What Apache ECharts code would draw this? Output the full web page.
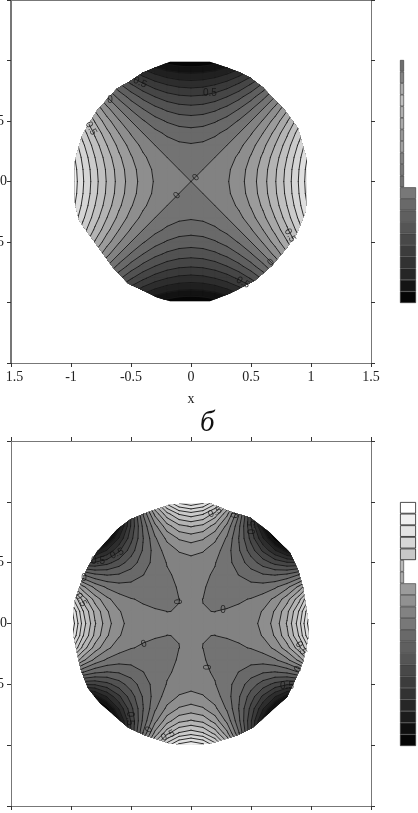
<!DOCTYPE html>
<html>
<head>
<meta charset="utf-8">
<title>contours</title>
<script src="https://cdn.jsdelivr.net/npm/echarts@6/dist/echarts.min.js"></script>
<style>
html, body { margin: 0; padding: 0; background: #fff; }
#chart { width: 418px; height: 813px; }
</style>
</head>
<body>
<div id="chart"></div>
<script>
var gridX = [-1,-0.9,-0.8,-0.7,-0.6,-0.5,-0.4,-0.3,-0.2,-0.1,0,0.1,0.2,0.3,0.4,0.5,0.6,0.7,0.8,0.9,1];
var gridY = [1,0.9,0.8,0.7,0.6,0.5,0.4,0.3,0.2,0.1,0,-0.1,-0.2,-0.3,-0.4,-0.5,-0.6,-0.7,-0.8,-0.9,-1];

// upper panel, in hundredths
var topUnit = 0.01;
var topField = [
	[0,-19,-36,-51,-64,-75,-84,-91,-96,-99,-100,-99,-96,-91,-84,-75,-64,-51,-36,-19,0],
	[19,0,-17,-32,-45,-56,-65,-72,-77,-80,-81,-80,-77,-72,-65,-56,-45,-32,-17,0,19],
	[36,17,0,-15,-28,-39,-48,-55,-60,-63,-64,-63,-60,-55,-48,-39,-28,-15,0,17,36],
	[51,32,15,0,-13,-24,-33,-40,-45,-48,-49,-48,-45,-40,-33,-24,-13,0,15,32,51],
	[64,45,28,13,0,-11,-20,-27,-32,-35,-36,-35,-32,-27,-20,-11,0,13,28,45,64],
	[75,56,39,24,11,0,-9,-16,-21,-24,-25,-24,-21,-16,-9,0,11,24,39,56,75],
	[84,65,48,33,20,9,0,-7,-12,-15,-16,-15,-12,-7,0,9,20,33,48,65,84],
	[91,72,55,40,27,16,7,0,-5,-8,-9,-8,-5,0,7,16,27,40,55,72,91],
	[96,77,60,45,32,21,12,5,0,-3,-4,-3,0,5,12,21,32,45,60,77,96],
	[99,80,63,48,35,24,15,8,3,0,-1,0,3,8,15,24,35,48,63,80,99],
	[100,81,64,49,36,25,16,9,4,1,0,1,4,9,16,25,36,49,64,81,100],
	[99,80,63,48,35,24,15,8,3,0,-1,0,3,8,15,24,35,48,63,80,99],
	[96,77,60,45,32,21,12,5,0,-3,-4,-3,0,5,12,21,32,45,60,77,96],
	[91,72,55,40,27,16,7,0,-5,-8,-9,-8,-5,0,7,16,27,40,55,72,91],
	[84,65,48,33,20,9,0,-7,-12,-15,-16,-15,-12,-7,0,9,20,33,48,65,84],
	[75,56,39,24,11,0,-9,-16,-21,-24,-25,-24,-21,-16,-9,0,11,24,39,56,75],
	[64,45,28,13,0,-11,-20,-27,-32,-35,-36,-35,-32,-27,-20,-11,0,13,28,45,64],
	[51,32,15,0,-13,-24,-33,-40,-45,-48,-49,-48,-45,-40,-33,-24,-13,0,15,32,51],
	[36,17,0,-15,-28,-39,-48,-55,-60,-63,-64,-63,-60,-55,-48,-39,-28,-15,0,17,36],
	[19,0,-17,-32,-45,-56,-65,-72,-77,-80,-81,-80,-77,-72,-65,-56,-45,-32,-17,0,19],
	[0,-19,-36,-51,-64,-75,-84,-91,-96,-99,-100,-99,-96,-91,-84,-75,-64,-51,-36,-19,0]
];

// lower panel, in ten-thousandths
var bottomUnit = 0.0001;
var bottomField = [
	[-40000,-32039,-24304,-16999,-10304,-4375,656,4681,7616,9401,10000,9401,7616,4681,656,-4375,-10304,-16999,-24304,-32039,-40000],
	[-32039,-26244,-20447,-14852,-9639,-4964,-959,2268,4633,6076,6561,6076,4633,2268,-959,-4964,-9639,-14852,-20447,-26244,-32039],
	[-24304,-20447,-16384,-12319,-8432,-4879,-1792,721,2576,3713,4096,3713,2576,721,-1792,-4879,-8432,-12319,-16384,-20447,-24304],
	[-16999,-14852,-12319,-9604,-6887,-4324,-2047,-164,1241,2108,2401,2108,1241,-164,-2047,-4324,-6887,-9604,-12319,-14852,-16999],
	[-10304,-9639,-8432,-6887,-5184,-3479,-1904,-567,448,1081,1296,1081,448,-567,-1904,-3479,-5184,-6887,-8432,-9639,-10304],
	[-4375,-4964,-4879,-4324,-3479,-2500,-1519,-644,41,476,625,476,41,-644,-1519,-2500,-3479,-4324,-4879,-4964,-4375],
	[656,-959,-1792,-2047,-1904,-1519,-1024,-527,-112,161,256,161,-112,-527,-1024,-1519,-1904,-2047,-1792,-959,656],
	[4681,2268,721,-164,-567,-644,-527,-324,-119,28,81,28,-119,-324,-527,-644,-567,-164,721,2268,4681],
	[7616,4633,2576,1241,448,41,-112,-119,-64,-7,16,-7,-64,-119,-112,41,448,1241,2576,4633,7616],
	[9401,6076,3713,2108,1081,476,161,28,-7,-4,1,-4,-7,28,161,476,1081,2108,3713,6076,9401],
	[10000,6561,4096,2401,1296,625,256,81,16,1,0,1,16,81,256,625,1296,2401,4096,6561,10000],
	[9401,6076,3713,2108,1081,476,161,28,-7,-4,1,-4,-7,28,161,476,1081,2108,3713,6076,9401],
	[7616,4633,2576,1241,448,41,-112,-119,-64,-7,16,-7,-64,-119,-112,41,448,1241,2576,4633,7616],
	[4681,2268,721,-164,-567,-644,-527,-324,-119,28,81,28,-119,-324,-527,-644,-567,-164,721,2268,4681],
	[656,-959,-1792,-2047,-1904,-1519,-1024,-527,-112,161,256,161,-112,-527,-1024,-1519,-1904,-2047,-1792,-959,656],
	[-4375,-4964,-4879,-4324,-3479,-2500,-1519,-644,41,476,625,476,41,-644,-1519,-2500,-3479,-4324,-4879,-4964,-4375],
	[-10304,-9639,-8432,-6887,-5184,-3479,-1904,-567,448,1081,1296,1081,448,-567,-1904,-3479,-5184,-6887,-8432,-9639,-10304],
	[-16999,-14852,-12319,-9604,-6887,-4324,-2047,-164,1241,2108,2401,2108,1241,-164,-2047,-4324,-6887,-9604,-12319,-14852,-16999],
	[-24304,-20447,-16384,-12319,-8432,-4879,-1792,721,2576,3713,4096,3713,2576,721,-1792,-4879,-8432,-12319,-16384,-20447,-24304],
	[-32039,-26244,-20447,-14852,-9639,-4964,-959,2268,4633,6076,6561,6076,4633,2268,-959,-4964,-9639,-14852,-20447,-26244,-32039],
	[-40000,-32039,-24304,-16999,-10304,-4375,656,4681,7616,9401,10000,9401,7616,4681,656,-4375,-10304,-16999,-24304,-32039,-40000]
];

var topLevels = [-0.9,-0.8,-0.7,-0.6,-0.5,-0.4,-0.3,-0.2,-0.1,0,0.1,0.2,0.3,0.4,0.5,0.6,0.7,0.8,0.9];
var bottomLevels = [-0.9,-0.8,-0.7,-0.6,-0.5,-0.4,-0.3,-0.2,-0.1,-0.0006,0.1,0.2,0.3,0.4,0.5,0.6,0.7,0.8,0.9];
var bandGrays = [5,18,32,45,58,70,82,95,105,115,130,142,155,168,180,192,203,213,223,238];

// outline of the filled disk in each panel
var topRim = [[-0.175,0.99],[-0.3,0.942],[-0.4,0.9],[-0.525,0.818],[-0.617,0.769],[-0.783,0.587],[-0.908,0.38],[-0.967,0.174],[-0.967,-0.182],[-0.933,-0.322],[-0.783,-0.529],[-0.65,-0.711],[-0.525,-0.843],[-0.4,-0.9],[-0.283,-0.959],[-0.175,-0.99],[0.158,-0.99],[0.325,-0.926],[0.533,-0.818],[0.675,-0.694],[0.8,-0.545],[0.883,-0.43],[0.958,-0.24],[0.967,0.174],[0.892,0.438],[0.783,0.587],[0.6,0.777],[0.492,0.86],[0.408,0.9],[0.3,0.942],[0.158,0.99]];
var bottomRim = [[-0.175,0.979],[-0.367,0.913],[-0.508,0.855],[-0.617,0.773],[-0.783,0.591],[-0.858,0.467],[-0.908,0.36],[-0.967,0.194],[-0.983,0.087],[-0.983,-0.079],[-0.95,-0.244],[-0.917,-0.384],[-0.858,-0.533],[-0.758,-0.657],[-0.525,-0.855],[-0.383,-0.921],[-0.175,-0.988],[-0.008,-0.996],[0.158,-0.988],[0.383,-0.921],[0.517,-0.855],[0.8,-0.607],[0.867,-0.467],[0.933,-0.318],[0.975,-0.136],[0.983,-0.012],[0.933,0.302],[0.892,0.442],[0.825,0.583],[0.658,0.748],[0.492,0.872],[0.325,0.921],[0.158,0.988],[-0.008,0.988]];

// x, y, text, rotation
var topLabels = [[-0.425,0.818,'0.5',-25],[-0.675,0.669,'0',0],[-0.833,0.438,'0.5',-60],[0.042,0.033,'0',45],[-0.117,-0.116,'0',45],[0.158,0.727,'0.5',0],[0.825,-0.446,'0.5',-60],[0.667,-0.669,'0',45],[0.433,-0.835,'0.5',-30]];
var bottomLabels = [[-0.617,0.574,'0.5',25],[-0.775,0.508,'0.5',0],[-0.892,0.368,'0',0],[-0.917,0.194,'0.5',-60],[-0.1,0.178,'0',90],[0.2,0.913,'0.5',25],[0.367,0.888,'0',80],[0.508,0.789,'0.5',90],[0.267,0.112,'0',0],[-0.392,-0.169,'0',20],[-0.508,-0.781,'0.5',-90],[-0.35,-0.872,'0',60],[-0.192,-0.921,'0.5',25],[0.142,-0.36,'0',90],[0.917,-0.202,'0.5',-60],[0.892,-0.376,'0',60],[0.8,-0.517,'0.5',0]];

var xTickLabels = ['1.5','-1','-0.5','0','0.5','1','1.5'];
var yTickLabels = ['','','-0.5','0','0.5','',''];

// colour bars, read from the top cell down
var topBarGrays = [110,130,170,190,175,170,150,160,130,120,115,120,105,95,85,72,60,50,38,20,5];
var topBarSpans = [0.25,0.25,0.25,0.25,0.25,0.25,0.25,0.25,0.25,0.25,0.25,1,1,1,1,1,1,1,1,1,1];
var bottomBarGrays = [255,240,228,215,200,185,170,155,145,130,120,105,95,85,72,60,50,38,28,15,5];
var bottomBarSpans = [1,1,1,1,1,0.25,0.25,1,1,1,1,1,1,1,1,1,1,1,1,1,1];

function gray(g) {
	return 'rgb(' + g + ',' + g + ',' + g + ')';
}

// cut one grid cell at a level, gives the part above it and the contour pieces
function cutCell(field, unit, r, c, level) {
	var corners = [
		[gridX[c], gridY[r], field[r][c] * unit],
		[gridX[c + 1], gridY[r], field[r][c + 1] * unit],
		[gridX[c + 1], gridY[r + 1], field[r + 1][c + 1] * unit],
		[gridX[c], gridY[r + 1], field[r + 1][c] * unit]
	];
	var poly = [], cross = [];
	for (var i = 0; i < 4; i++) {
		var a = corners[i], b = corners[(i + 1) % 4];
		var ain = a[2] >= level, bin = b[2] >= level;
		if (ain) poly.push([a[0], a[1]]);
		if (ain !== bin) {
			var t = (level - a[2]) / (b[2] - a[2]);
			var p = [a[0] + (b[0] - a[0]) * t, a[1] + (b[1] - a[1]) * t];
			poly.push(p);
			cross.push(p);
		}
	}
	return { poly: poly, cross: cross };
}

function rimClip(rim, api) {
	return { type: 'polygon', shape: { points: rim.map(function(p) { return api.coord(p); }) } };
}

function bandSeries(axisIndex, field, unit, levels, rim) {
	var items = [[0, 0]];
	levels.forEach(function() { items.push([0, 0]); });
	return {
		type: 'custom',
		xAxisIndex: axisIndex,
		yAxisIndex: axisIndex,
		clip: false,
		silent: true,
		animation: false,
		data: items,
		renderItem: function(params, api) {
			var i = params.dataIndex;
			var color = gray(bandGrays[i]);
			var style = { fill: color, stroke: color, lineWidth: 1.2 };
			var children = [];
			if (i === 0) {
				children.push({ type: 'polygon', shape: { points: rim.map(function(p) { return api.coord(p); }) }, style: style });
			} else {
				for (var r = 0; r < gridY.length - 1; r++) {
					for (var c = 0; c < gridX.length - 1; c++) {
						var cell = cutCell(field, unit, r, c, levels[i - 1]);
						if (cell.poly.length > 2) {
							children.push({ type: 'polygon', shape: { points: cell.poly.map(function(p) { return api.coord(p); }) }, style: style });
						}
					}
				}
			}
			return { type: 'group', clipPath: rimClip(rim, api), children: children };
		}
	};
}

function lineSeries(axisIndex, field, unit, levels, rim) {
	return {
		type: 'custom',
		xAxisIndex: axisIndex,
		yAxisIndex: axisIndex,
		clip: false,
		silent: true,
		animation: false,
		data: levels.map(function() { return [0, 0]; }),
		renderItem: function(params, api) {
			var level = levels[params.dataIndex];
			var children = [];
			for (var r = 0; r < gridY.length - 1; r++) {
				for (var c = 0; c < gridX.length - 1; c++) {
					var cross = cutCell(field, unit, r, c, level).cross;
					for (var k = 0; k + 1 < cross.length; k += 2) {
						var p = api.coord(cross[k]), q = api.coord(cross[k + 1]);
						if (p[0] === q[0] && p[1] === q[1]) continue;
						children.push({ type: 'line', shape: { x1: p[0], y1: p[1], x2: q[0], y2: q[1] }, style: { stroke: '#161616', lineWidth: 0.9, lineCap: 'round' } });
					}
				}
			}
			return { type: 'group', clipPath: rimClip(rim, api), children: children };
		}
	};
}

function labelSeries(axisIndex, labels) {
	return {
		type: 'scatter',
		xAxisIndex: axisIndex,
		yAxisIndex: axisIndex,
		symbolSize: 0,
		silent: true,
		animation: false,
		data: labels.map(function(l) {
			return {
				value: [l[0], l[1]],
				label: { show: true, position: 'inside', formatter: l[2], rotate: l[3], fontFamily: 'Liberation Sans', fontSize: 10, color: '#111' }
			};
		})
	};
}

function barSeries(axisIndex, grays, spans, heavy) {
	return {
		type: 'bar',
		xAxisIndex: axisIndex,
		yAxisIndex: axisIndex,
		barWidth: '100%',
		silent: true,
		animation: false,
		data: grays.map(function(g, i) {
			return {
				value: spans[i],
				itemStyle: { color: gray(g), borderColor: i < heavy ? '#222' : '#333', borderWidth: i < heavy ? 0.8 : 0.6 }
			};
		})
	};
}

function valueX(gridIndex, position, labelled) {
	return {
		type: 'value', gridIndex: gridIndex, position: position, min: -1.5, max: 1.5, interval: 0.5,
		axisLine: { onZero: false, lineStyle: { color: '#777', width: 1 } },
		axisTick: { show: true, length: 4, lineStyle: { color: '#333' } },
		splitLine: { show: false },
		axisLabel: labelled ? {
			show: true, margin: 7, fontFamily: 'Liberation Serif', fontSize: 14, color: '#222', hideOverlap: false,
			showMinLabel: true, showMaxLabel: true,
			formatter: function(v) {
				var i = Math.round((v + 1.5) / 0.5);
				return i === 0 ? '{first|' + xTickLabels[0] + '}' : xTickLabels[i];
			},
			rich: { first: { fontFamily: 'Liberation Serif', fontSize: 14, color: '#222', padding: [0, 0, 0, 7] } }
		} : { show: false }
	};
}

function valueY(gridIndex, position, labelled, axisWidth) {
	return {
		type: 'value', gridIndex: gridIndex, position: position, min: -1.5, max: 1.5, interval: 0.5,
		axisLine: { onZero: false, lineStyle: { color: '#777', width: axisWidth } },
		axisTick: { show: true, length: 4, lineStyle: { color: '#333' } },
		splitLine: { show: false },
		axisLabel: labelled ? {
			show: true, margin: 4, fontFamily: 'Liberation Serif', fontSize: 14, color: '#222',
			formatter: function(v) {
				var t = yTickLabels[Math.round((v + 1.5) / 0.5)];
				if (t === '0') return t;
				return t ? '{cut|' + t + '}' : '';
			},
			rich: { cut: { fontFamily: 'Liberation Serif', fontSize: 14, color: '#222', padding: [0, 3, 0, 0] } }
		} : { show: false }
	};
}

function barX(gridIndex) {
	return { type: 'value', gridIndex: gridIndex, min: 0, max: 1, show: false };
}

function barY(gridIndex, grays) {
	return { type: 'category', gridIndex: gridIndex, inverse: true, data: grays.map(function(g, i) { return i; }), show: false };
}

var chart = echarts.init(document.getElementById('chart'));
chart.setOption({
	backgroundColor: '#fff',
	animation: false,
	title: {
		text: 'б', left: 195, top: 404,
		textStyle: { fontFamily: 'Liberation Serif', fontStyle: 'italic', fontWeight: 'normal', fontSize: 29, color: '#111' }
	},
	grid: [
		{ left: 11, top: 0, width: 360, height: 363, outerBoundsMode: 'none' },
		{ left: 11, top: 441, width: 360, height: 365, outerBoundsMode: 'none' },
		{ left: 11, top: 0, width: 360, height: 363, outerBoundsMode: 'none' },
		{ left: 11, top: 441, width: 360, height: 365, outerBoundsMode: 'none' },
		{ left: 400, top: 60, width: 16, height: 243, outerBoundsMode: 'none' },
		{ left: 400, top: 502, width: 16, height: 244, outerBoundsMode: 'none' }
	],
	xAxis: [
		Object.assign(valueX(0, 'bottom', true), { name: 'x', nameLocation: 'middle', nameGap: 29, nameTextStyle: { fontFamily: 'Liberation Serif', fontSize: 14, color: '#222' } }),
		valueX(1, 'bottom', false),
		valueX(2, 'top', false),
		valueX(3, 'top', false),
		barX(4),
		barX(5)
	],
	yAxis: [
		valueY(0, 'left', true, 2),
		valueY(1, 'left', true, 1),
		valueY(2, 'right', false, 1),
		valueY(3, 'right', false, 1),
		barY(4, topBarGrays),
		barY(5, bottomBarGrays)
	],
	series: [
		bandSeries(0, topField, topUnit, topLevels, topRim),
		lineSeries(0, topField, topUnit, topLevels, topRim),
		labelSeries(0, topLabels),
		bandSeries(1, bottomField, bottomUnit, bottomLevels, bottomRim),
		lineSeries(1, bottomField, bottomUnit, bottomLevels, bottomRim),
		labelSeries(1, bottomLabels),
		barSeries(4, topBarGrays, topBarSpans, 0),
		barSeries(5, bottomBarGrays, bottomBarSpans, 5)
	]
});
</script>
</body>
</html>
